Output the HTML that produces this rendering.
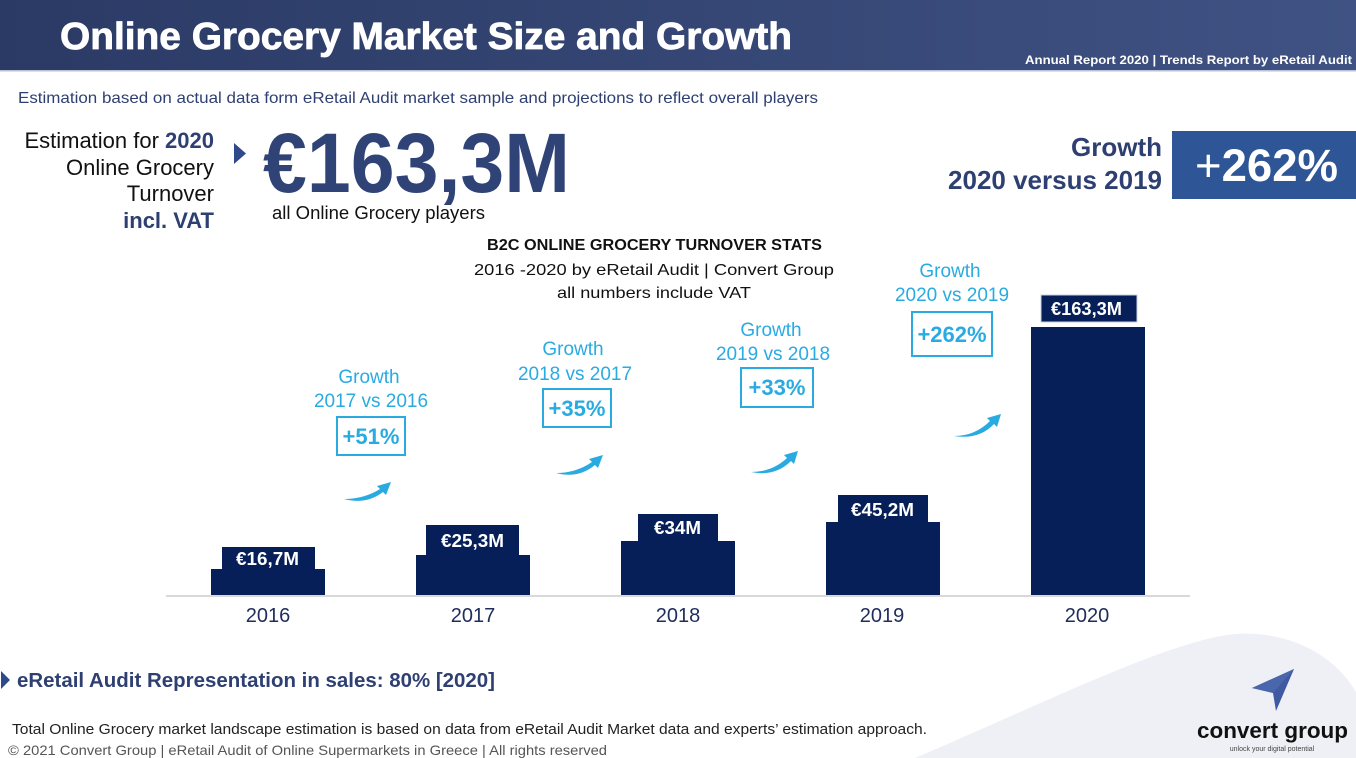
<!DOCTYPE html>
<html><head><meta charset="utf-8"><style>
html,body{margin:0;padding:0;background:#fff;}
svg{display:block;font-family:"Liberation Sans",Arial,sans-serif;}
</style></head><body>
<svg width="1356" height="758" viewBox="0 0 1356 758" xmlns="http://www.w3.org/2000/svg">
<defs>
<linearGradient id="hg" x1="0" y1="0" x2="1" y2="0">
<stop offset="0" stop-color="#2b3a65"/><stop offset="1" stop-color="#3f5283"/>
</linearGradient>
</defs>
<rect x="0" y="0" width="1356" height="758" fill="#fff"/>
<!-- bottom right swoosh -->
<path d="M915,758 C1040,705 1170,640 1235,634 C1295,630 1338,660 1356,692 L1356,758 Z" fill="#eff0f6"/>
<!-- header -->
<rect x="0" y="0" width="1356" height="70" fill="url(#hg)"/>
<rect x="0" y="70" width="1356" height="1.5" fill="#b9c1d8"/>
<text x="60" y="49" font-size="38" font-weight="bold" fill="#fff" stroke="#fff" stroke-width="0.8" textLength="732" lengthAdjust="spacingAndGlyphs">Online Grocery Market Size and Growth</text>
<text x="1025" y="64" font-size="12" font-weight="bold" fill="#fff" textLength="327" lengthAdjust="spacingAndGlyphs">Annual Report 2020 | Trends Report by eRetail Audit</text>
<text x="18" y="103" font-size="16" fill="#2e3f72" textLength="800" lengthAdjust="spacingAndGlyphs">Estimation based on actual data form eRetail Audit market sample and projections to reflect overall players</text>
<!-- left block -->
<text x="214" y="148" font-size="22" fill="#111" text-anchor="end">Estimation for <tspan font-weight="bold" fill="#2e3f72">2020</tspan></text>
<text x="214" y="175" font-size="22" fill="#111" text-anchor="end">Online Grocery</text>
<text x="214" y="201" font-size="22" fill="#111" text-anchor="end">Turnover</text>
<text x="214" y="228" font-size="22" font-weight="bold" fill="#2e3f72" text-anchor="end">incl. VAT</text>
<polygon points="234,143 246,153.5 234,164" fill="#2e4a8a"/>
<text x="263" y="192" font-size="84" font-weight="bold" fill="#2f4377" textLength="307" lengthAdjust="spacingAndGlyphs">€163,3M</text>
<text x="272" y="219" font-size="18" fill="#111" textLength="213" lengthAdjust="spacingAndGlyphs">all Online Grocery players</text>
<!-- growth right -->
<text x="1162" y="156" font-size="26" font-weight="bold" fill="#2e3f72" text-anchor="end">Growth</text>
<text x="1162" y="189" font-size="26" font-weight="bold" fill="#2e3f72" text-anchor="end">2020 versus 2019</text>
<rect x="1172" y="131" width="184" height="68" fill="#2e5595"/>
<text x="1195" y="181" font-size="45" fill="#fff" textLength="143" lengthAdjust="spacingAndGlyphs">+<tspan font-weight="bold">262%</tspan></text>
<!-- chart title -->
<text x="487" y="250" font-size="16" font-weight="bold" fill="#111" textLength="335" lengthAdjust="spacingAndGlyphs">B2C ONLINE GROCERY TURNOVER STATS</text>
<text x="474" y="275" font-size="16" fill="#111" textLength="360" lengthAdjust="spacingAndGlyphs">2016 -2020 by eRetail Audit | Convert Group</text>
<text x="557" y="298" font-size="16" fill="#111" textLength="194" lengthAdjust="spacingAndGlyphs">all numbers include VAT</text>
<!-- axis -->
<rect x="166" y="595" width="1024" height="2" fill="#d9d9d9"/>
<!-- bars -->
<g fill="#061f59">
<rect x="211" y="569" width="114" height="26"/><rect x="222" y="547" width="93" height="23"/>
<rect x="416" y="555" width="114" height="40"/><rect x="426" y="525" width="93" height="31"/>
<rect x="621" y="541" width="114" height="54"/><rect x="638" y="514" width="80" height="28"/>
<rect x="826" y="522" width="114" height="73"/><rect x="838" y="495" width="90" height="28"/>
<rect x="1031" y="327" width="114" height="268"/>
<rect x="1041" y="295" width="96" height="27" stroke="#c9cfe0" stroke-width="1"/>
</g>
<g fill="#fff" font-weight="bold" font-size="18">
<text x="236" y="565" textLength="63" lengthAdjust="spacingAndGlyphs">€16,7M</text>
<text x="441" y="547" textLength="63" lengthAdjust="spacingAndGlyphs">€25,3M</text>
<text x="654" y="534" textLength="47" lengthAdjust="spacingAndGlyphs">€34M</text>
<text x="851" y="516" textLength="63" lengthAdjust="spacingAndGlyphs">€45,2M</text>
<text x="1051" y="315" textLength="71" lengthAdjust="spacingAndGlyphs">€163,3M</text>
</g>
<g fill="#1e2d5c" font-size="20" text-anchor="middle">
<text x="268" y="622">2016</text>
<text x="473" y="622">2017</text>
<text x="678" y="622">2018</text>
<text x="882" y="622">2019</text>
<text x="1087" y="622">2020</text>
</g>
<!-- growth annotations -->
<g fill="#29abe2" font-size="19" text-anchor="middle">
<text x="369" y="383">Growth</text><text x="371" y="407">2017 vs 2016</text>
<text x="573" y="355">Growth</text><text x="575" y="380">2018 vs 2017</text>
<text x="771" y="336">Growth</text><text x="773" y="360">2019 vs 2018</text>
<text x="950" y="277">Growth</text><text x="952" y="301">2020 vs 2019</text>
</g>
<g fill="none" stroke="#29abe2" stroke-width="2">
<rect x="337" y="417" width="68" height="38"/>
<rect x="543" y="389" width="68" height="38"/>
<rect x="741" y="368" width="72" height="39"/>
<rect x="912" y="312" width="80" height="44"/>
</g>
<g fill="#29abe2" font-size="22" font-weight="bold" text-anchor="middle">
<text x="371" y="444">+51%</text>
<text x="577" y="416">+35%</text>
<text x="777" y="395">+33%</text>
<text x="952" y="342">+262%</text>
</g>
<!-- curved arrows -->
<g fill="#29abe2">
<path transform="translate(344,482)" d="M0,17 Q22,23 39,10 L42,13 L47,0 L33,4 L36,7 Q20,17 0,17 Z"/>
<path transform="translate(556,455)" d="M0,18 Q22,24 39,10 L42,13 L47,0 L33,4 L36,7 Q20,18 0,18 Z"/>
<path transform="translate(751,451)" d="M0,21 Q24,26 40,10 L43,13 L47,0 L33,4 L36,7 Q21,21 0,21 Z"/>
<path transform="translate(954,414)" d="M0,22 Q25,26 40,10 L43,13 L47,0 L33,4 L36,7 Q21,22 0,22 Z"/>
</g>
<!-- bottom -->
<polygon points="1,671 10,680 1,689" fill="#2e4a8a"/>
<text x="17" y="687" font-size="20" font-weight="bold" fill="#2e3f72" textLength="478" lengthAdjust="spacingAndGlyphs">eRetail Audit Representation in sales: 80% [2020]</text>
<text x="12" y="734" font-size="15" fill="#222" textLength="915" lengthAdjust="spacingAndGlyphs">Total Online Grocery market landscape estimation is based on data from eRetail Audit Market data and experts’ estimation approach.</text>
<text x="8" y="755" font-size="14" fill="#555" textLength="599" lengthAdjust="spacingAndGlyphs">© 2021 Convert Group | eRetail Audit of Online Supermarkets in Greece | All rights reserved</text>
<!-- logo -->
<polygon points="1252,688 1294,669 1276,711 1273,693" fill="#3f5aa0"/>
<polygon points="1252,688 1294,669 1273,693" fill="#4a66ad"/>
<text x="1197" y="738" font-size="22" font-weight="bold" fill="#111" textLength="151" lengthAdjust="spacingAndGlyphs">convert group</text>
<text x="1272" y="751" font-size="7" fill="#444" text-anchor="middle">unlock your digital potential</text>
</svg>
</body></html>
